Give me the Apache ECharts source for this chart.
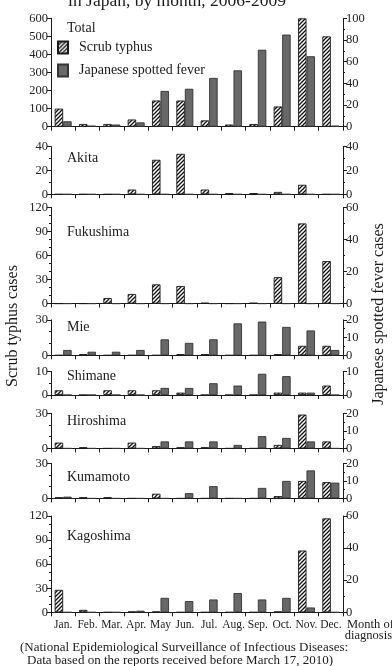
<!DOCTYPE html>
<html>
<head>
<meta charset="utf-8">
<script src="https://cdn.jsdelivr.net/npm/echarts@6/dist/echarts.min.js"></script>
<style>
  html, body { margin: 0; padding: 0; background: #fff; }
  #chart { width: 392px; height: 666px; }
</style>
</head>
<body>
<div id="chart"></div>
<script>
// Month categories
const months = ['Jan.', 'Feb.', 'Mar.', 'Apr.', 'May', 'Jun.', 'Jul.', 'Aug.', 'Sep.', 'Oct.', 'Nov.', 'Dec.'];

// Cases per month, 2006-2009 (scrub typhus on the left scale, Japanese spotted fever on the right)
const totalScrub     = [100, 15, 15, 40, 145, 145, 35, 12, 15, 112, 600, 500];
const totalJsf       = [5, 1, 2, 4, 33, 35, 45, 52, 71, 85, 65, 1];
const akitaScrub     = [0, 0, 0, 4, 29, 34, 4, 1, 1, 2, 8, 0];
const akitaJsf       = [0, 0, 0, 0, 0, 0, 0, 0, 0, 0, 0, 0];
const fukushimaScrub = [0, 0, 7, 12, 24, 22, 1, 0, 1, 33, 100, 53];
const fukushimaJsf   = [0, 0, 0, 0, 0, 0, 0, 0, 0, 0, 0, 0];
const mieScrub       = [0, 1, 0, 0, 0, 1, 1, 0, 0, 1, 8, 8];
const mieJsf         = [3, 2, 2, 3, 9, 7, 9, 18, 19, 16, 14, 3];
const shimaneScrub   = [2, 0, 2, 2, 2, 1, 0, 0, 0, 1, 1, 4];
const shimaneJsf     = [0, 0, 0, 0, 3, 3, 5, 4, 9, 8, 1, 0];
const hiroshimaScrub = [5, 1, 0, 5, 2, 1, 1, 0, 0, 3, 29, 6];
const hiroshimaJsf   = [0, 0, 0, 0, 4, 4, 4, 2, 7, 6, 4, 0];
const kumamotoScrub  = [1, 1, 1, 0, 4, 0, 0, 0, 0, 2, 15, 14];
const kumamotoJsf    = [1, 0, 0, 0, 0, 3, 7, 0, 6, 10, 16, 9];
const kagoshimaScrub = [28, 3, 0, 1, 1, 0, 0, 0, 0, 1, 77, 117];
const kagoshimaJsf   = [0, 0, 0, 1, 9, 7, 8, 12, 8, 9, 3, 0];

// Panel names and axis ranges [max, interval, minor splits]
const panelNames = ['Total', 'Akita', 'Fukushima', 'Mie', 'Shimane', 'Hiroshima', 'Kumamoto', 'Kagoshima'];
const scrubSets  = [totalScrub, akitaScrub, fukushimaScrub, mieScrub, shimaneScrub, hiroshimaScrub, kumamotoScrub, kagoshimaScrub];
const jsfSets    = [totalJsf, akitaJsf, fukushimaJsf, mieJsf, shimaneJsf, hiroshimaJsf, kumamotoJsf, kagoshimaJsf];
const leftScales  = [[600, 100, 1], [40, 20, 2], [120, 30, 3], [30, 30, 3], [10, 10, 2], [30, 30, 3], [30, 30, 3], [120, 30, 3]];
const rightScales = [[100, 20, 2], [40, 20, 2], [60, 20, 2], [20, 10, 2], [10, 10, 2], [20, 10, 2], [20, 10, 2], [60, 20, 2]];

// Layout of the stacked panels (plot-area top and height, px)
const layout = [
  [18.3, 108.4], [146.7, 47.6], [207.4, 96.2], [319.8, 35.5],
  [371.4, 23.6], [413.4, 35], [463.4, 35], [516, 96.3]
];
const labelY = [28, 158, 232, 327, 376, 421, 477, 536];

const SERIF = '"Liberation Serif", "Times New Roman", serif';
const INK = '#1a1a1a';

// Diagonal hatching for the scrub typhus bars
function hatchCanvas() {
  const c = document.createElement('canvas');
  const s = 4;
  c.width = s; c.height = s;
  const g = c.getContext('2d');
  g.fillStyle = '#ffffff';
  g.fillRect(0, 0, s, s);
  g.strokeStyle = '#111';
  g.lineWidth = 1.3;
  g.beginPath();
  g.moveTo(0, s); g.lineTo(s, 0);
  g.moveTo(-1, 1); g.lineTo(1, -1);
  g.moveTo(s - 1, s + 1); g.lineTo(s + 1, s - 1);
  g.stroke();
  return c;
}
const hatch = { image: hatchCanvas(), repeat: 'repeat' };

const grids = [], xAxes = [], yAxes = [], series = [];

layout.forEach(([top, height], i) => {
  grids.push({ left: 51, width: 292, top: top, height: height, outerBoundsMode: 'none' });

  xAxes.push({
    type: 'category', gridIndex: i, data: months, boundaryGap: true,
    axisLine: { show: true, lineStyle: { color: INK, width: 1 } },
    axisTick: { show: true, length: 4, inside: false, alignWithLabel: false, lineStyle: { color: INK } },
    axisLabel: { show: i === layout.length - 1, color: '#222', fontFamily: SERIF, fontSize: 11.5, margin: 7, interval: 0 },
    splitLine: { show: false }
  });

  const axisCommon = (pos, sc) => ({
    type: 'value', gridIndex: i, position: pos, min: 0, max: sc[0], interval: sc[1],
    axisLine: { show: true, lineStyle: { color: INK, width: 1 } },
    axisTick: { show: true, length: 4, inside: false, lineStyle: { color: INK } },
    minorTick: { show: sc[2] > 1, splitNumber: sc[2], length: 2, lineStyle: { color: INK } },
    axisLabel: { color: '#222', fontFamily: SERIF, fontSize: 12.5, margin: 3 },
    splitLine: { show: false }
  });
  yAxes.push(axisCommon('left', leftScales[i]));
  yAxes.push(axisCommon('right', rightScales[i]));

  series.push({
    name: 'Scrub typhus', type: 'bar', xAxisIndex: i, yAxisIndex: 2 * i,
    data: scrubSets[i], barWidth: 8.5, barGap: '0%', silent: true,
    itemStyle: { color: hatch, borderColor: INK, borderWidth: 0.9 }
  });
  series.push({
    name: 'Japanese spotted fever', type: 'bar', xAxisIndex: i, yAxisIndex: 2 * i + 1,
    data: jsfSets[i], barWidth: 8.5, barGap: '0%', silent: true,
    itemStyle: { color: '#686868', borderColor: '#333', borderWidth: 0.9 }
  });
});

const textEl = (text, x, y, size, opts) => Object.assign({
  type: 'text', x: x, y: y, silent: true,
  style: Object.assign({ text: text, font: size + 'px ' + SERIF, fill: INK, textAlign: 'left', textVerticalAlign: 'middle', verticalAlign: 'middle' }, (opts && opts.style) || {})
}, (opts && opts.el) || {});

const graphics = [];
panelNames.forEach((n, i) => graphics.push(textEl(n, 67, labelY[i], 14)));
graphics.push(textEl('in Japan, by month, 2006-2009', 177, 10, 17.5, { style: { textAlign: 'center', textVerticalAlign: 'bottom', verticalAlign: 'bottom' } }));
graphics.push(textEl('Scrub typhus cases', 13, 326, 16, { style: { textAlign: 'center' }, el: { rotation: Math.PI / 2 } }));
graphics.push(textEl('Japanese spotted fever cases', 379, 314, 16, { style: { textAlign: 'center' }, el: { rotation: Math.PI / 2 } }));
graphics.push(textEl('Month of', 347, 625, 12.5));
graphics.push(textEl('diagnosis', 392, 636, 12.5, { style: { textAlign: 'right' } }));
graphics.push(textEl('(National Epidemiological Surveillance of Infectious Diseases:', 20, 648, 13));
graphics.push(textEl('Data based on the reports received before March 17, 2010)', 27, 661, 13));

const chart = echarts.init(document.getElementById('chart'), null, { renderer: 'canvas' });
chart.setOption({
  animation: false,
  backgroundColor: '#ffffff',
  grid: grids,
  xAxis: xAxes,
  yAxis: yAxes,
  series: series,
  legend: {
    data: ['Scrub typhus', 'Japanese spotted fever'],
    orient: 'vertical', left: 57, top: 40.5, padding: 0, icon: 'rect',
    itemWidth: 10, itemHeight: 12, itemGap: 9,
    selectedMode: false,
    textStyle: { fontFamily: SERIF, fontSize: 14, color: INK, padding: [0, 0, 0, 6] }
  },
  graphic: graphics
});
</script>
</body>
</html>
